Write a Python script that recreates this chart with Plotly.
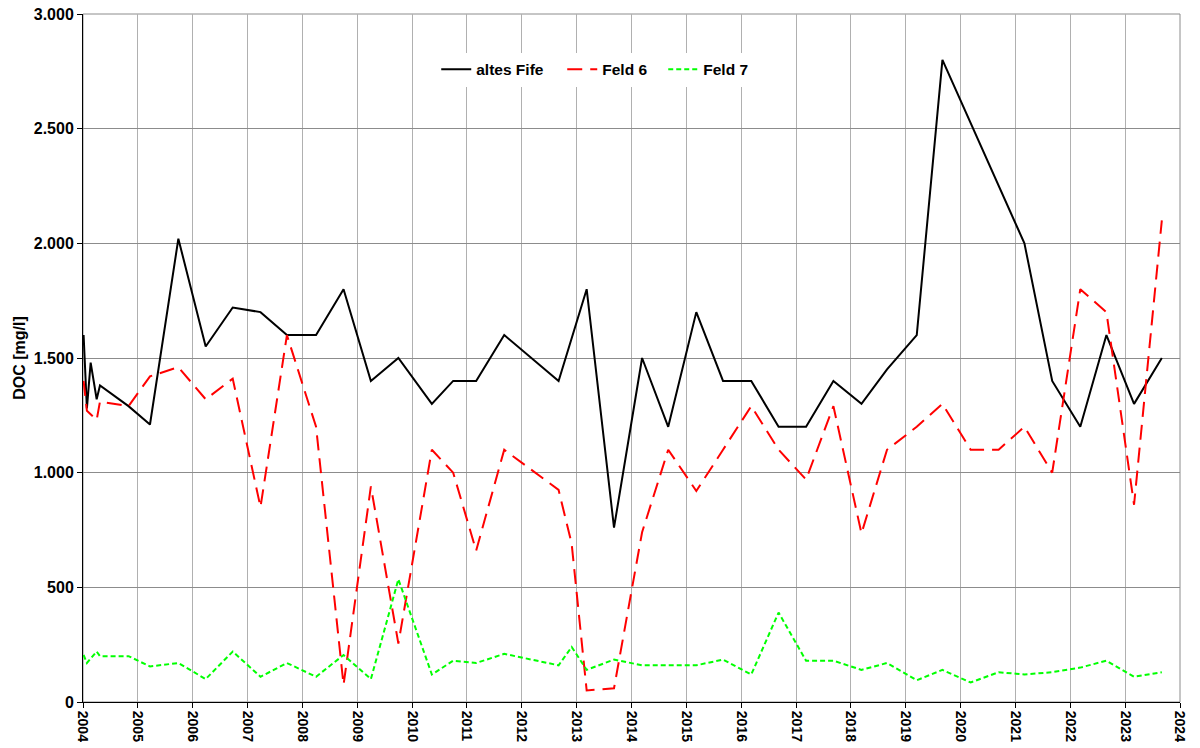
import plotly.graph_objects as go

# sampling dates (shared by all three series)
dates = [
    "2004-01-05", "2004-01-27", "2004-02-21", "2004-04-01", "2004-04-23", "2004-10-30",
    "2005-03-22", "2005-09-27", "2006-03-28", "2006-09-24", "2007-03-28", "2007-09-20",
    "2008-04-01", "2008-10-01", "2009-04-01", "2009-10-01", "2010-05-12", "2010-10-01",
    "2011-03-03", "2011-09-06", "2012-09-02", "2012-11-28", "2013-03-08", "2013-09-06",
    "2014-03-12", "2014-09-02", "2015-03-08", "2015-09-02", "2016-03-08", "2016-09-06",
    "2017-03-08", "2017-09-06", "2018-03-12", "2018-08-29", "2019-03-15", "2019-09-02",
    "2020-03-08", "2020-09-10", "2021-03-01", "2021-09-02", "2022-03-08", "2022-08-29",
    "2023-03-01", "2023-09-02",
]

altes_fife = [
    1600, 1280, 1480, 1320, 1380, 1290,
    1210, 2020, 1550, 1720, 1700, 1600,
    1600, 1800, 1400, 1500, 1300, 1400,
    1400, 1600, 1400, None, 1800, 760,
    1500, 1200, 1700, 1400, 1400, 1200,
    1200, 1400, 1300, 1450, 1600, 2800,
    None, None, 2000, 1400, 1200, 1600,
    1300, 1500,
]

feld_6 = [
    1400, 1270, None, 1230, 1310, 1290,
    1420, 1460, 1320, 1410, 850, 1600,
    1200, 75, 940, 255, 1100, 1000,
    660, 1100, 925, 690, 50, 60,
    740, 1100, 920, 1100, 1290, 1100,
    970, 1290, 735, 1100, 1200, 1300,
    1100, 1100, 1200, 1000, 1800, 1700,
    860, 2100,
]

feld_7 = [
    205, 170, None, 220, 200, 200,
    155, 170, 100, 220, 110, 170,
    110, 205, 100, 535, 120, 180,
    170, 210, 160, 240, 140, 185,
    160, 160, 160, 185, 120, 390,
    180, 180, 140, 170, 95, 140,
    85, 130, 120, 130, 150, 180,
    110, 130,
]

FONT = "Liberation Sans, Arial, sans-serif"

fig = go.Figure()
fig.add_trace(go.Scatter(x=dates, y=altes_fife, name="altes Fife", mode="lines",
                         connectgaps=True, legendwidth=81,
                         line=dict(color="black", width=2)))
fig.add_trace(go.Scatter(x=dates, y=feld_6, name="Feld 6", mode="lines",
                         connectgaps=True, legendwidth=56,
                         line=dict(color="#ff0000", width=2, dash="15px,8px")))
fig.add_trace(go.Scatter(x=dates, y=feld_7, name="Feld 7", mode="lines",
                         connectgaps=True, legendwidth=50,
                         line=dict(color="#00ff00", width=2, dash="5px,3px")))

fig.update_layout(
    width=1200, height=748,
    margin=dict(l=83, r=20, t=14, b=46),
    paper_bgcolor="white", plot_bgcolor="white",
    separators=",.",
    font=dict(family=FONT, color="black", size=15),
    legend=dict(orientation="h", x=0.322, y=0.919, xanchor="left", yanchor="middle",
                bgcolor="white", font=dict(size=15.5, weight="bold"),
                itemwidth=30, tracegroupgap=0),
    xaxis=dict(type="date", range=["2004-01-01", "2024-01-01"], dtick="M12",
               tick0="2004-01-01", tickformat="%Y", tickangle=90,
               tickfont=dict(size=14, weight="bold"), automargin=False,
               showgrid=True, gridcolor="#b0b0b0", gridwidth=1,
               showline=True, linecolor="black", linewidth=1, mirror=False,
               ticks="outside", ticklen=5, tickcolor="black"),
    yaxis=dict(range=[0, 3000], dtick=500, tickformat=",d",
               tickfont=dict(size=16, weight="bold"), automargin=False,
               title=dict(text="DOC [mg/l]", font=dict(size=16, weight="bold"), standoff=4),
               showgrid=True, gridcolor="#8c8c8c", gridwidth=1,
               showline=True, linecolor="black", linewidth=1,
               ticks="outside", ticklen=5, tickcolor="black", zeroline=False),
    shapes=[dict(type="rect", xref="paper", yref="paper", x0=0, y0=0, x1=1, y1=1,
                 line=dict(color="#8c8c8c", width=1), layer="below")],
)

# page body has a default 8px margin, drop it so the chart sits at 0,0
fig.write_html("out.html", config={"displayModeBar": False},
               post_script="document.body.style.margin='0';")
